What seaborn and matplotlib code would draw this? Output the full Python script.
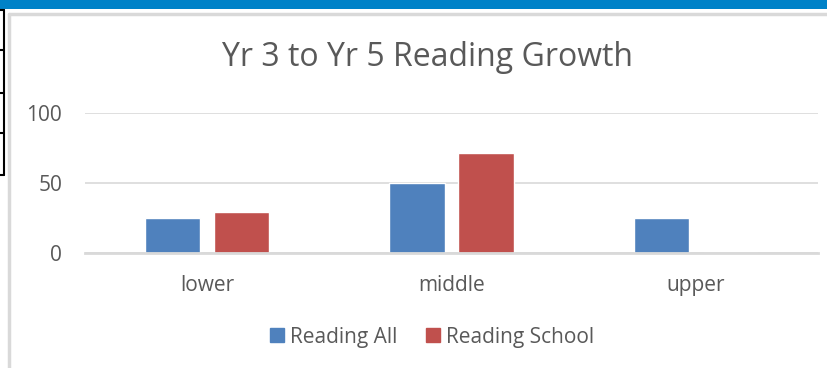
import matplotlib
matplotlib.use("Agg")
import matplotlib.pyplot as plt
import seaborn as sns
import pandas as pd
from matplotlib.lines import Line2D
from matplotlib.patches import Rectangle

categories = ["lower", "middle", "upper"]
reading_all = [25, 50, 25]
reading_school = [29, 71.4, 0]
series_names = ["Reading All", "Reading School"]
y_ticks = [0, 50, 100]
title = "Yr 3 to Yr 5 Reading Growth"

df = pd.DataFrame({
    "category": categories * 2,
    "value": reading_all + reading_school,
    "series": [series_names[0]] * 3 + [series_names[1]] * 3,
})

sns.set_theme(style="white")
FONT = ["Open Sans", "DejaVu Sans"]
plt.rcParams["font.family"] = FONT
txt = "#595959"
grid = "#D9D9D9"

W, H = 828, 368
fig = plt.figure(figsize=(W / 100, H / 100), dpi=100)

def fx(x):
    return x / W

def fy(y):
    return 1 - y / H

# decorations: blue band, chart border, table lines
fig.add_artist(Rectangle((0, fy(9)), 1, 9 / H, transform=fig.transFigure, color="#0082C8", lw=0))
fig.add_artist(Line2D([fx(9), fx(9)], [fy(14), 0], transform=fig.transFigure, color=grid, lw=2.5))
fig.add_artist(Line2D([fx(9), 1], [fy(14), fy(14)], transform=fig.transFigure, color=grid, lw=2.5))
fig.add_artist(Line2D([fx(4), fx(4)], [fy(9.5), fy(175)], transform=fig.transFigure, color="black", lw=1.5))
for yy in [10, 50, 93, 133, 175]:
    fig.add_artist(Line2D([0, fx(4.5)], [fy(yy), fy(yy)], transform=fig.transFigure, color="black", lw=1.5))

left, right, top, bottom = 85, 818, 113, 253
ax = fig.add_axes([fx(left), fy(bottom), (right - left) / W, (bottom - top) / H])

sns.barplot(data=df, x="category", y="value", hue="series",
            palette=["#4F81BD", "#C0504D"], width=0.565, gap=0.2,
            ax=ax, legend=False, saturation=1)

ax.set_ylim(0, 100)
ax.set_xlim(-0.5, 2.5)
ax.set_yticks(y_ticks)
ax.set_yticklabels([str(t) for t in y_ticks])
ax.set_xlabel("")
ax.set_ylabel("")
ax.yaxis.grid(True, color=grid, lw=1.2)
ax.set_axisbelow(True)
for s in ["top", "right", "left"]:
    ax.spines[s].set_visible(False)
ax.spines["bottom"].set_color(grid)
ax.spines["bottom"].set_linewidth(2)
ax.tick_params(axis="both", length=0, colors=txt, labelsize=15)
ax.tick_params(axis="x", pad=16)
ax.tick_params(axis="y", pad=16.5)

fig.text(fx(428), fy(57), title, ha="center", va="center", fontsize=23, color=txt)

handles = [Rectangle((0, 0), 1, 1, color=c) for c in ["#4F81BD", "#C0504D"]]
fig.legend(handles, series_names, loc="center", bbox_to_anchor=(fx(432), fy(337)),
           ncol=2, frameon=False, fontsize=15, labelcolor=txt,
           handlelength=0.67, handleheight=0.67, handletextpad=0.27, columnspacing=1.4)

fig.savefig("out.png", dpi=100)
